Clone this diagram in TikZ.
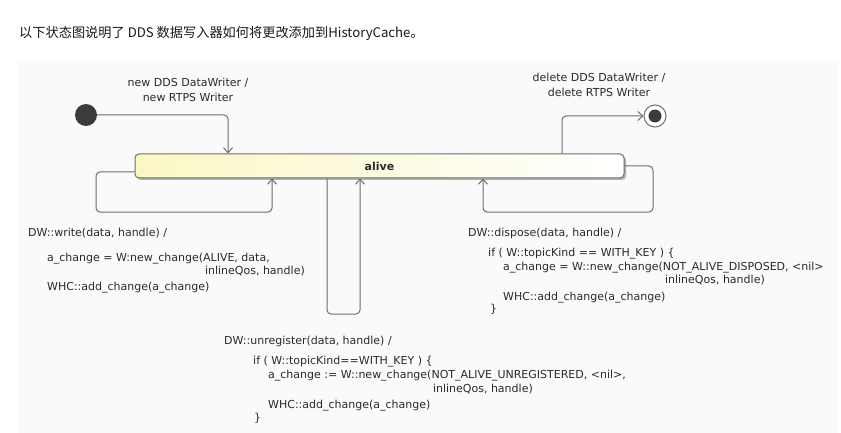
\documentclass[tikz,border=0pt]{standalone}
\usepackage{fontspec}
\setmainfont{DejaVu Sans}
\newfontfamily\cjk{Noto Sans CJK SC}
\usetikzlibrary{arrows.meta,shadows}

\definecolor{linegray}{HTML}{6E6E6E}
\definecolor{textgray}{HTML}{2A2A2A}
\definecolor{aliveyellow}{HTML}{FBF7C4}
\definecolor{panel}{HTML}{FAFAFA}

\begin{document}
\begin{tikzpicture}[x=1pt,y=-1pt,
	txt/.style={font=\fontsize{11}{15}\selectfont,text=textgray,inner sep=0pt},
	trans/.style={draw=linegray,line width=1pt,rounded corners=4pt,-{Straight Barb[length=5pt,width=9pt]}},
	statebox/.style={draw=linegray,line width=1pt,rounded corners=4pt,left color=aliveyellow,right color=white,minimum width=489pt,minimum height=24pt,font=\fontsize{11}{13}\selectfont\bfseries,text=textgray,drop shadow={shadow xshift=2pt,shadow yshift=-2pt,fill=black!30,opacity=1}},
	startdot/.style={shape=circle,fill=black!77,minimum size=22pt,inner sep=0pt},
	enddot/.style={shape=circle,draw=linegray,line width=1pt,fill=white,minimum size=22pt,inner sep=0pt,path picture={\fill[black!77] (path picture bounding box.center) circle (6.5pt);}}]
	
	\useasboundingbox (0,0) rectangle (841,433);
	\fill[panel] (17,61) rectangle (838,433);
	
	\node[anchor=base west,inner sep=0pt,font=\cjk\fontsize{13.2}{16}\selectfont,text=black!90] (title) at (19,38) {以下状态图说明了 DDS 数据写入器如何将更改添加到HistoryCache。};
	
	\node[statebox] (alive) at (379.5,166) {alive};
	\node[startdot] (start) at (86,115) {};
	\node[enddot] (stop) at (655,116) {};
	
	\node[txt,align=center] (newLbl) at (188,90) {new DDS DataWriter /\\new RTPS Writer};
	\node[txt,align=center] (delLbl) at (599,85) {delete DDS DataWriter /\\delete RTPS Writer};
	
	\draw[trans] (start) -| ([xshift=-151.5pt]alive.north);
	\draw[trans] ([xshift=182.5pt]alive.north) |- (stop);
	\draw[trans] ([yshift=-6pt]alive.west) -| (96,212) -| ([xshift=-107.5pt]alive.south);
	\draw[trans] ([xshift=-52.5pt]alive.south) |- (343,314) -| ([xshift=-19.5pt]alive.south);
	\draw[trans] (alive.east) -| (653,212) -| ([xshift=103.5pt]alive.south);
	
	% write
	\node[txt,anchor=base west] (wrA) at (28,236) {DW::write(data, handle) /};
	\node[txt,anchor=base west] (wrB) at (47,261) {a\_change = W:new\_change(ALIVE, data,};
	\node[txt,anchor=base east] (wrC) at (305,274) {inlineQos, handle)};
	\node[txt,anchor=base west] (wrD) at (47,290) {WHC::add\_change(a\_change)};
	
	% dispose
	\node[txt,anchor=base west] (dpA) at (468,236) {DW::dispose(data, handle) /};
	\node[txt,anchor=base west] (dpB) at (488,256) {if ( W::topicKind == WITH\_KEY ) \{};
	\node[txt,anchor=base west] (dpC) at (503,270) {a\_change = W::new\_change(NOT\_ALIVE\_DISPOSED, <nil>};
	\node[txt,anchor=base east] (dpD) at (765,283) {inlineQos, handle)};
	\node[txt,anchor=base west] (dpE) at (503,300) {WHC::add\_change(a\_change)};
	\node[txt,anchor=base west] (dpF) at (490,312) {\}};
	
	% unregister
	\node[txt,anchor=base west] (unA) at (224,344) {DW::unregister(data, handle) /};
	\node[txt,anchor=base west] (unB) at (253,364) {if ( W::topicKind==WITH\_KEY ) \{};
	\node[txt,anchor=base west] (unC) at (268,378) {a\_change := W::new\_change(NOT\_ALIVE\_UNREGISTERED, <nil>,};
	\node[txt,anchor=base east] (unD) at (533,392) {inlineQos, handle)};
	\node[txt,anchor=base west] (unE) at (268,408) {WHC::add\_change(a\_change)};
	\node[txt,anchor=base west] (unF) at (254,421) {\}};
	
\end{tikzpicture}
\end{document}
